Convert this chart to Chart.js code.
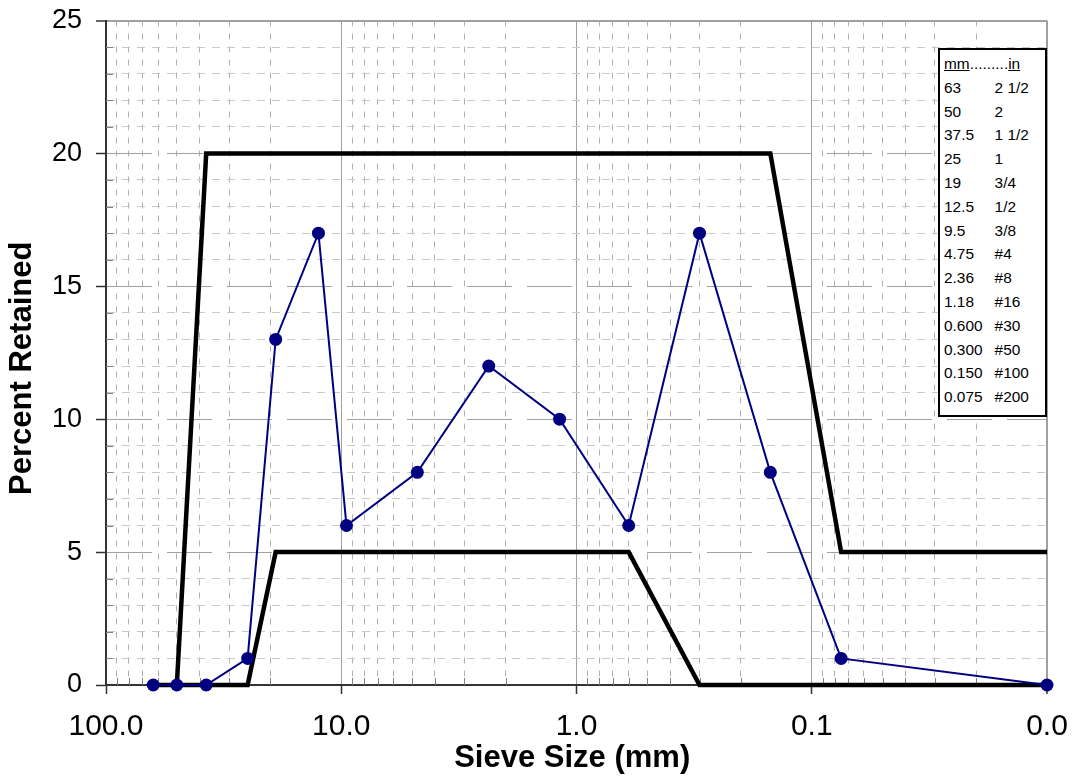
<!DOCTYPE html>
<html>
<head>
<meta charset="utf-8">
<script src="https://cdn.jsdelivr.net/npm/chart.js@4.4.1/dist/chart.umd.min.js"></script>
<style>
  html, body { margin: 0; padding: 0; background: #fff; }
  #wrap { position: relative; width: 1072px; height: 777px; }
  #sieveKey {
    position: absolute; left: 938px; top: 48px; width: 101px;
    border: 2px solid #000; background: #fff; color: #000;
    padding: 3px 0 5px 4px; overflow: hidden;
  }
  #sieveKey .rows {
    font: 14px "Liberation Sans", Arial, sans-serif;
    line-height: 23.8px; white-space: nowrap;
    transform: scaleX(1.1); transform-origin: left top;
  }
  #sieveKey .mm { display: inline-block; width: 46px; }
</style>
</head>
<body>
<div id="wrap">
  <canvas id="myChart" width="1072" height="777"></canvas>
  <div id="sieveKey"><div class="rows"></div></div>
</div>
<script>

var sieveSizes = [63, 50, 37.5, 25, 19, 12.5, 9.5, 4.75, 2.36, 1.18, 0.6, 0.3, 0.15, 0.075, 0.01];
var percentRetained = [0, 0, 0, 1, 13, 17, 6, 8, 12, 10, 6, 17, 8, 1, 0];

var upperSizes = [50, 37.5, 0.15, 0.075, 0.01];
var upperLimit = [0, 20, 20, 5, 5];

var lowerSizes = [63, 25, 19, 0.6, 0.3, 0.01];
var lowerLimit = [0, 0, 5, 5, 0, 0];

var xDecades = [100, 10, 1, 0.1, 0.01];
var yMajorTicks = [0, 5, 10, 15, 20, 25];

var keyMm = ['63', '50', '37.5', '25', '19', '12.5', '9.5', '4.75', '2.36', '1.18', '0.600', '0.300', '0.150', '0.075'];
var keyIn = ['2 1/2', '2', '1 1/2', '1', '3/4', '1/2', '3/8', '#4', '#8', '#16', '#30', '#50', '#100', '#200'];

var FONT = '"Liberation Sans", Arial, sans-serif';

function toPoints(xs, ys){
	return xs.map(function(x, i){ return {x: x, y: ys[i]}; });
}

function isDecade(v){
	var l = Math.log10(v);
	return Math.abs(l - Math.round(l)) < 1e-6;
}

function isYMajor(v){
	return yMajorTicks.indexOf(v) >= 0;
}

// key table in the top right corner
var key = document.querySelector('#sieveKey .rows');
var html = '<div><u>mm</u>.........<u>in</u></div>';
keyMm.forEach(function(mm, i){
	html += '<div><span class="mm">' + mm + '</span>' + keyIn[i] + '</div>';
});
key.innerHTML = html;

// small inside ticks for the minor steps
var minorTicks = {
	id: 'minorTicks',
	beforeDatasetsDraw(chart){
		var ctx = chart.ctx, area = chart.chartArea;
		var xs = chart.scales.x, ys = chart.scales.y;
		ctx.save();
		ctx.strokeStyle = '#808080';
		ctx.lineWidth = 1;
		ctx.beginPath();
		xs.ticks.forEach(function(t){
			if(isDecade(t.value)) return;
			var px = Math.round(xs.getPixelForValue(t.value)) + 0.5;
			ctx.moveTo(px, area.bottom);
			ctx.lineTo(px, area.bottom - 7);
		});
		ys.ticks.forEach(function(t){
			if(isYMajor(t.value)) return;
			var py = Math.round(ys.getPixelForValue(t.value)) + 0.5;
			ctx.moveTo(area.left, py);
			ctx.lineTo(area.left + 7, py);
		});
		ctx.stroke();
		ctx.restore();
	}
};

var ctx = document.getElementById('myChart').getContext('2d');
var chart = new Chart(ctx, {
	type: 'line',
	data: {
		datasets: [{
			label: 'Percent Retained',
			data: toPoints(sieveSizes, percentRetained),
			borderColor: '#000080',
			backgroundColor: '#000080',
			borderWidth: 2,
			pointRadius: 6.5,
			pointBorderWidth: 0,
			pointBackgroundColor: '#000080',
			tension: 0,
			clip: false
		}, {
			label: 'Upper Limit',
			data: toPoints(upperSizes, upperLimit),
			borderColor: '#000',
			borderWidth: 4.5,
			pointRadius: 0,
			tension: 0,
			clip: false
		}, {
			label: 'Lower Limit',
			data: toPoints(lowerSizes, lowerLimit),
			borderColor: '#000',
			borderWidth: 4.5,
			pointRadius: 0,
			tension: 0,
			clip: false
		}]
	},
	options: {
		responsive: false,
		animation: false,
		layout: { padding: { top: 20.5, right: 25, left: 0, bottom: 0 } },
		plugins: {
			legend: { display: false },
			tooltip: { enabled: false }
		},
		scales: {
			x: {
				type: 'logarithmic',
				position: 'bottom',
				reverse: true,
				min: 0.01,
				max: 100,
				afterBuildTicks(scale){
					var t = [];
					xDecades.forEach(function(d){
						t.push({value: d});
						if(d < 100){
							for(var k = 2; k <= 9; k++) t.push({value: d * k});
						}
					});
					t.sort(function(a, b){ return a.value - b.value; });
					scale.ticks = t;
				},
				afterFit(scale){ scale.height = 92; },
				ticks: {
					autoSkip: false,
					maxRotation: 0,
					padding: 15,
					color: '#000',
					font: { family: FONT, size: 30 },
					callback: function(v){ return isDecade(v) ? Number(v).toFixed(1) : ''; }
				},
				grid: {
					color: function(c){ return c.tick && isDecade(c.tick.value) ? '#a0a0a0' : '#b0b0b0'; },
					lineWidth: function(c){ return c.tick && c.tick.value < 0.011 ? 2 : 1; },
					tickLength: 9,
					tickWidth: 1.5,
					tickColor: function(c){ return c.tick && isDecade(c.tick.value) ? '#333' : 'rgba(0,0,0,0)'; }
				},
				border: {
					color: '#333',
					width: 2,
					dash: function(c){ return c.tick && !isDecade(c.tick.value) ? [6, 7] : []; }
				},
				title: {
					display: true,
					text: 'Sieve Size (mm) ',
					color: '#000',
					font: { family: FONT, size: 31, weight: 'bold' },
					padding: { top: 0, bottom: 0 }
				}
			},
			y: {
				type: 'linear',
				min: 0,
				max: 25,
				afterBuildTicks(scale){
					var t = [];
					for(var v = 0; v <= 25; v++) t.push({value: v});
					scale.ticks = t;
				},
				afterFit(scale){
					scale.width = 106;
					scale.paddingTop = 0;
					scale.paddingBottom = 0;
				},
				ticks: {
					autoSkip: false,
					padding: 14,
					color: '#000',
					font: { family: FONT, size: 27 },
					callback: function(v){ return isYMajor(v) ? String(v) : ''; }
				},
				grid: {
					color: function(c){ return c.tick && isYMajor(c.tick.value) ? '#a0a0a0' : '#c8c8c8'; },
					lineWidth: function(c){ return c.tick && c.tick.value === 25 ? 2 : 1; },
					tickLength: 10,
					tickWidth: 1.5,
					tickColor: function(c){ return c.tick && isYMajor(c.tick.value) ? '#333' : 'rgba(0,0,0,0)'; }
				},
				border: {
					color: '#333',
					width: 2,
					dash: function(c){
						if(!c.tick || c.tick.value === 25 || c.tick.value === 0) return [];
						return isYMajor(c.tick.value) ? [45, 15] : [8, 7];
					}
				},
				title: {
					display: true,
					text: 'Percent Retained\u2002\u2002',
					color: '#000',
					font: { family: FONT, size: 31, weight: 'bold' },
					padding: { top: 4, bottom: 0 }
				}
			}
		}
	},
	plugins: [minorTicks]
});

</script>
</body>
</html>
